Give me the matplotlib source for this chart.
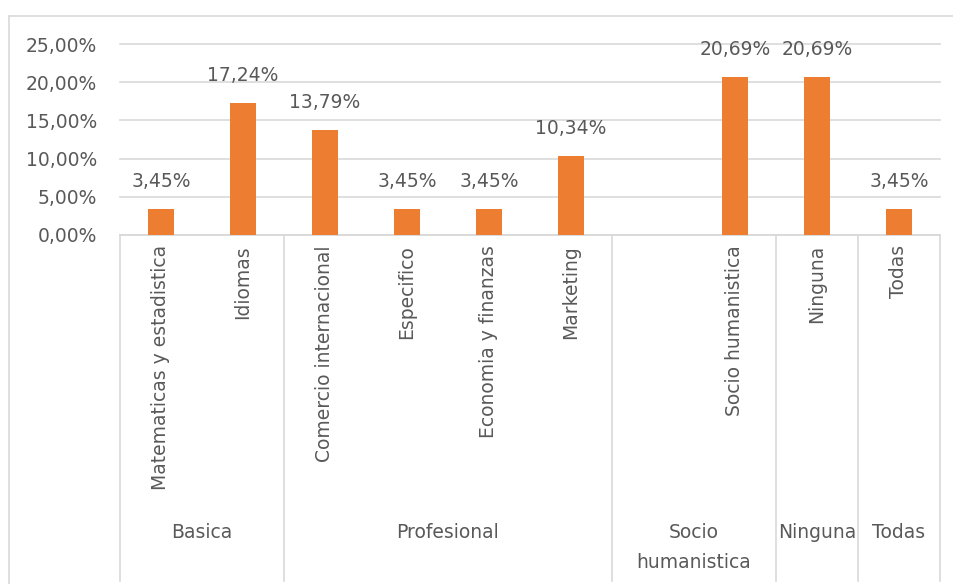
import matplotlib
matplotlib.use("Agg")
import matplotlib.pyplot as plt
from matplotlib import transforms
from matplotlib.lines import Line2D

# ---- data ----
groups = ["Basica", "Profesional", "Socio\nhumanistica", "Ninguna", "Todas"]
group_sizes = [2, 4, 2, 1, 1]
categories = ["Matematicas y estadistica", "Idiomas", "Comercio internacional",
              "Especifico", "Economia y finanzas", "Marketing", "",
              "Socio humanistica", "Ninguna", "Todas"]
values = [3.45, 17.24, 13.79, 3.45, 3.45, 10.34, None, 20.69, 20.69, 3.45]
yticks = [0, 5, 10, 15, 20, 25]

BAR = "#ED7D31"
TXT = "#595959"
GRID = "#D9D9D9"
FONT = "DejaVu Sans"
FS = 13.5
plt.rcParams['font.family'] = [FONT]

W, H = 954, 584
fig = plt.figure(figsize=(W / 100, H / 100), dpi=100)
fig.patch.set_facecolor("white")

def fx(px):
    return px / W

def fy(py):
    return 1 - py / H

left, right = 120, 940
top, bottom = 44, 235
ax = fig.add_axes([fx(left), fy(bottom), fx(right) - fx(left), fy(top) - fy(bottom)])

n = len(categories)
xs = list(range(n))
bx = [x for x, v in zip(xs, values) if v is not None]
bv = [v for v in values if v is not None]
ax.bar(bx, bv, width=0.32, color=BAR, zorder=3)

for x, v in zip(bx, bv):
    ax.annotate(f"{v:.2f}%".replace(".", ","), (x, v), xytext=(0, 13),
                textcoords="offset points", ha="center", va="bottom",
                fontsize=FS, color=TXT)

ax.set_xlim(-0.5, n - 0.5)
ax.set_ylim(0, 25)
ax.set_yticks(yticks)
ax.set_yticklabels([f"{t:.2f}%".replace(".", ",") for t in yticks],
                   fontsize=FS, color=TXT)
ax.tick_params(axis="y", length=0, pad=16.5)
ax.set_xticks([])
ax.yaxis.grid(True, color=GRID, linewidth=1.2, zorder=0)
for gl in ax.get_ygridlines():
    gl.set_clip_on(False)
for s in ["top", "right", "left"]:
    ax.spines[s].set_visible(False)
ax.spines["bottom"].set_color(GRID)
ax.spines["bottom"].set_linewidth(1.2)

# category labels (rotated)
trans = transforms.blended_transform_factory(ax.transData, fig.transFigure)
for x, c in zip(xs, categories):
    if c:
        fig.text(x, fy(245), c, rotation=90, ha="center", va="top",
                 fontsize=FS, color=TXT, transform=trans)

# group dividers and group labels
edge = -0.5
bounds = [edge]
for g, sz in zip(groups, group_sizes):
    center = edge + sz / 2
    fig.text(center, fy(523), g, ha="center", va="top", fontsize=FS,
             color=TXT, transform=trans, linespacing=1.7)
    edge += sz
    bounds.append(edge)
for b in bounds:
    fig.add_artist(Line2D([b, b], [fy(bottom), fy(581)], transform=trans,
                          color=GRID, linewidth=1.2))

# outer chart border
fig.add_artist(Line2D([fx(9), 1], [fy(16), fy(16)], color=GRID, linewidth=1.2))
fig.add_artist(Line2D([fx(9), fx(9)], [fy(16), 0], color=GRID, linewidth=1.2))

fig.savefig("out.png", dpi=100, facecolor="white")
